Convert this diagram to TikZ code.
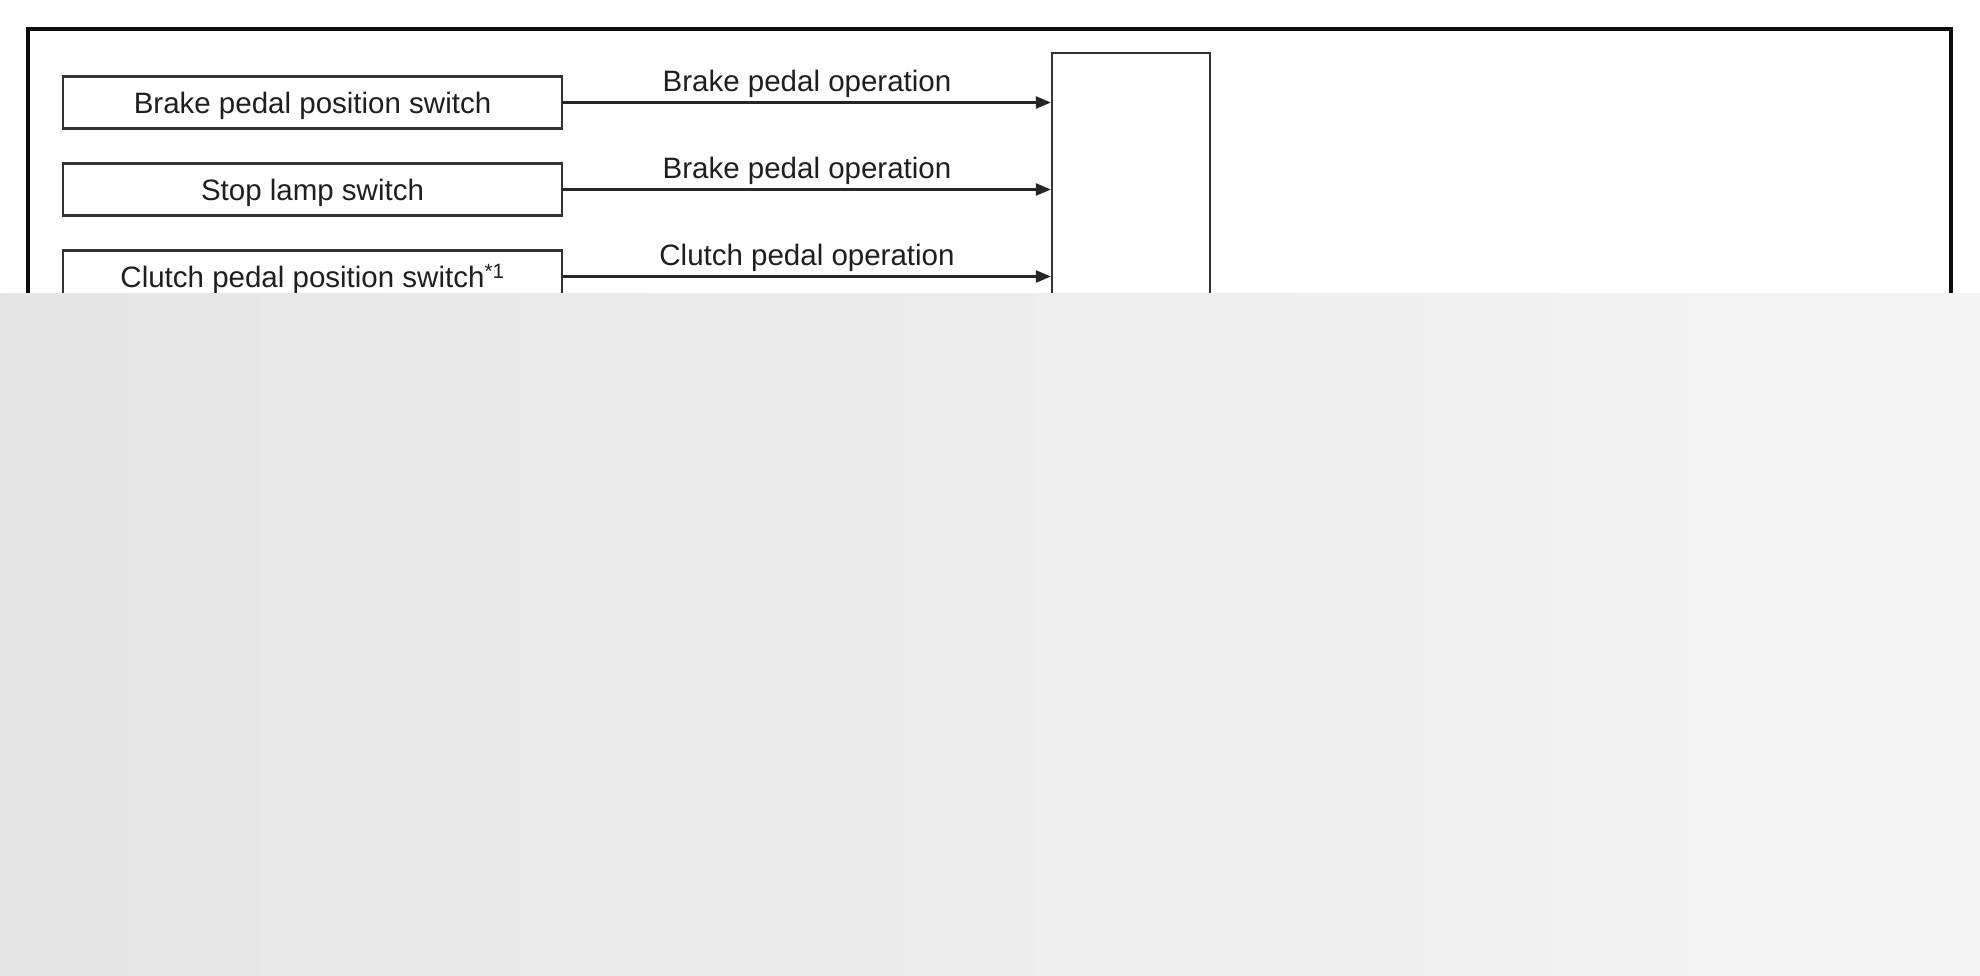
\documentclass[tikz,border=0pt]{standalone}
\usepackage{fontspec}
\setmainfont{Liberation Sans}
\usetikzlibrary{arrows.meta}
\begin{document}
\begin{tikzpicture}[x=1pt,y=-1pt,
  txt/.style={font=\fontsize{29.5}{34}\selectfont, text=black!88},
  inbox/.style={txt, draw=black!80, line width=2.2pt, minimum width=499pt, minimum height=52pt, inner sep=0pt, text height=24pt, text depth=2pt},
  ecubox/.style={draw=black!80, line width=2.2pt, minimum width=158pt, minimum height=860pt, inner sep=0pt},
  sig/.style={draw=black!85, line width=2.4pt, -{Triangle[length=15pt,width=12pt]}},
  lbl/.style={txt, anchor=base, pos=0.5, yshift=11pt, inner sep=0pt}]
\useasboundingbox (0,0) rectangle (1980,976);
\fill[white] (0,0) rectangle (1980,976);
% outer frame
\draw[line width=4.8pt, black!95] (28,29) rectangle (1951,970);
% control unit box
\node[ecubox] (ecu) at (1131,483) {};
% input boxes
\node[inbox] (b1) at (312.5,102.5) {Brake pedal position switch};
\node[inbox] (b2) at (312.5,189.5) {Stop lamp switch};
\node[inbox] (b3) at (312.5,276.5) {Clutch pedal position switch\textsuperscript{*1}};
% signals
\draw[sig] (b1.east) -- (b1.east -| ecu.west) node[lbl] (l1) {Brake pedal operation};
\draw[sig] (b2.east) -- (b2.east -| ecu.west) node[lbl] (l2) {Brake pedal operation};
\draw[sig] (b3.east) -- (b3.east -| ecu.west) node[lbl] (l3) {Clutch pedal operation};
% obscuring overlay
\shade[left color=black!10, right color=black!4] (0,293) rectangle (1980,976);
\end{tikzpicture}
\end{document}
